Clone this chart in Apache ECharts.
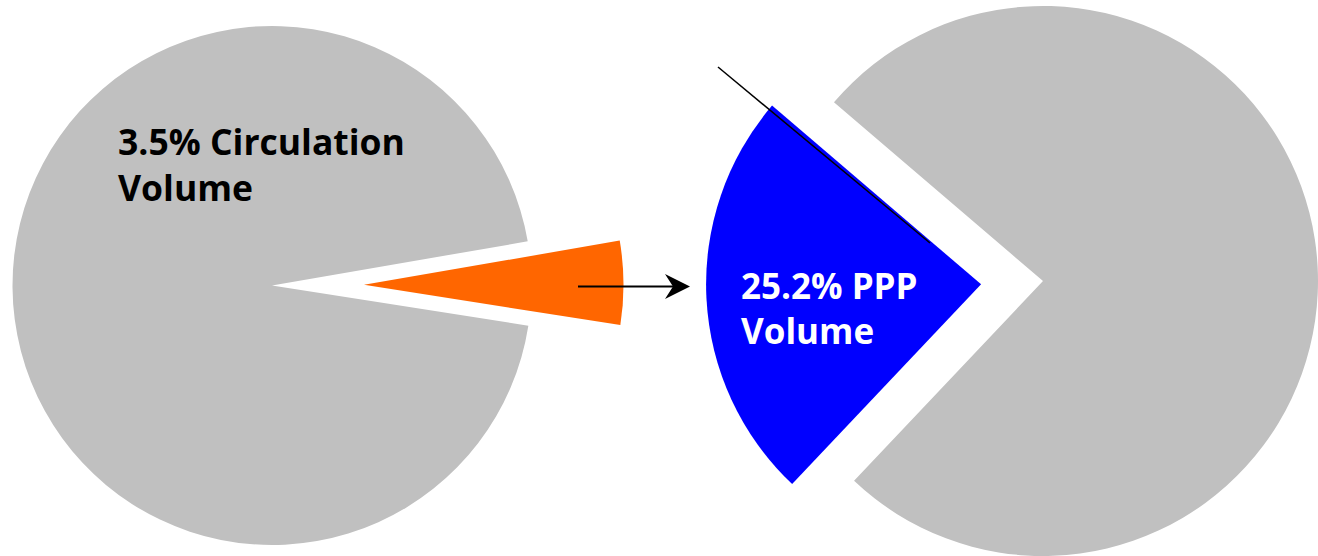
<!DOCTYPE html>
<html>
<head>
<meta charset="utf-8">
<title>Circulation / PPP Volume</title>
<script src="https://cdn.jsdelivr.net/npm/echarts@6/dist/echarts.min.js"></script>
<style>
  html, body { margin: 0; padding: 0; background: #fff; }
  #main { width: 1318px; height: 556px; }
</style>
</head>
<body>
<div id="main"></div>
<script>
// data
const leftNames = ['Circulation Volume', 'Rest'];
const leftValues = [5.2, 94.8];
const rightNames = ['PPP Volume', 'Rest'];
const rightValues = [24.2, 75.8];

const leftLabel = ['3.5% Circulation', 'Volume'];
const rightLabel = ['25.2% PPP', 'Volume'];

// colours
const grayColor = '#C0C0C0';
const orangeColor = '#FF6600';
const blueColor = '#0000FF';

const chart = echarts.init(document.getElementById('main'), null, { renderer: 'svg' });

const makeData = (names, values, colors, selectedIdx) =>
  names.map((n, i) => ({
    name: n,
    value: values[i],
    selected: i === selectedIdx,
    itemStyle: { color: colors[i] }
  }));

// one text element per line
const textLine = (txt, x, y, color, size) => ({
  type: 'text',
  x: x,
  y: y,
  z: 100,
  silent: true,
  style: {
    text: txt,
    fill: color,
    font: 'bold ' + size + 'px "Open Sans", sans-serif',
    verticalAlign: 'bottom'
  }
});

const option = {
  animation: false,
  backgroundColor: '#fff',
  series: [
    {
      type: 'pie',
      center: [272, 285.5],
      radius: 259.5,
      startAngle: 9.8,
      clockwise: true,
      selectedMode: 'multiple',
      selectedOffset: 92,
      label: { show: false },
      labelLine: { show: false },
      emphasis: { disabled: true },
      data: makeData(leftNames, leftValues, [orangeColor, grayColor], 0)
    },
    {
      type: 'pie',
      center: [1043, 281],
      radius: 275,
      startAngle: 226.6,
      clockwise: true,
      selectedMode: 'multiple',
      selectedOffset: 62,
      label: { show: false },
      labelLine: { show: false },
      emphasis: { disabled: true },
      data: makeData(rightNames, rightValues, [blueColor, grayColor], 0)
    }
  ],
  graphic: [
    textLine(leftLabel[0], 118, 159, '#000', 35.5),
    textLine(leftLabel[1], 118, 205, '#000', 35.5),
    textLine(rightLabel[0], 741, 303, '#fff', 35),
    textLine(rightLabel[1], 741, 348, '#fff', 35),
    // leader line along the top edge of the blue slice
    {
      type: 'line',
      z: 100,
      silent: true,
      shape: { x1: 718, y1: 67, x2: 930, y2: 243 },
      style: { stroke: '#000', lineWidth: 1.5 }
    },
    // arrow from the orange slice to the blue slice
    {
      type: 'line',
      z: 100,
      silent: true,
      shape: { x1: 578, y1: 286.5, x2: 682, y2: 286.5 },
      style: { stroke: '#000', lineWidth: 2 }
    },
    {
      type: 'polygon',
      z: 100,
      silent: true,
      shape: { points: [[690, 286.5], [665, 274], [673, 286.5], [665, 299]] },
      style: { fill: '#000' }
    }
  ]
};

chart.setOption(option);
</script>
</body>
</html>
